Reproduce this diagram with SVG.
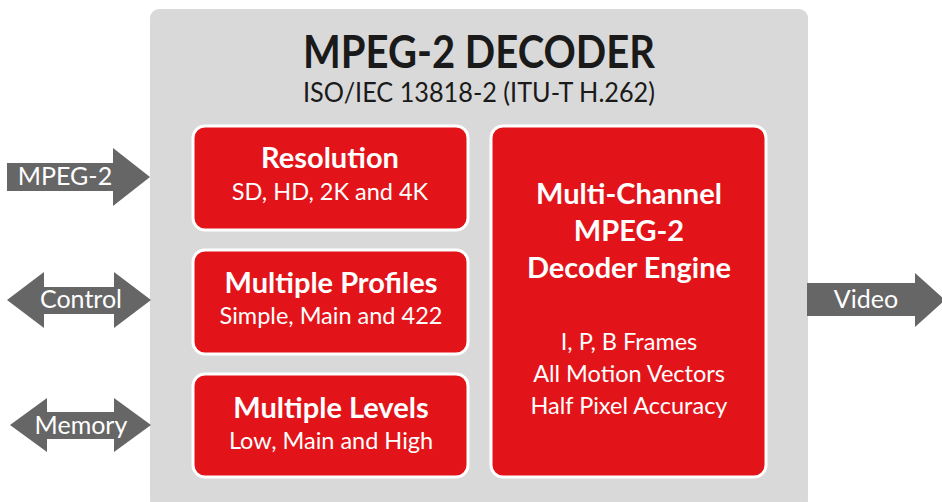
<svg xmlns="http://www.w3.org/2000/svg" width="942" height="502" viewBox="0 0 942 502">
<style>
.box{fill:#e2141a;stroke:#ffffff;stroke-width:3}
.arr{fill:#666666}
.t{font-family:Lato,"Open Sans","Liberation Sans",sans-serif;fill:#ffffff;text-anchor:middle}
.b{font-weight:bold;font-size:29px}
.r{font-size:23.5px}
.al{font-family:Lato,"Open Sans","Liberation Sans",sans-serif;fill:#ffffff;font-size:25px;text-anchor:middle}
</style>
<rect x="0" y="0" width="942" height="502" fill="#ffffff"/>
<g id="decoder">
<rect x="150" y="9" width="658" height="500" rx="9" fill="#d9d9d9"/>
<text x="479" y="68" font-family="Lato,'Open Sans','Liberation Sans',sans-serif" font-weight="bold" font-size="45" fill="#1a1a1a" text-anchor="middle" textLength="352" lengthAdjust="spacingAndGlyphs">MPEG-2 DECODER</text>
<text x="479" y="102" font-family="Lato,'Open Sans','Liberation Sans',sans-serif" font-size="26" fill="#1a1a1a" text-anchor="middle" textLength="352" lengthAdjust="spacingAndGlyphs">ISO/IEC 13818-2 (ITU-T H.262)</text>
</g>
<g id="connectors">
<polygon class="arr" points="7,163 113,163 113,148 150,177 113,206 113,191 7,191"/>
<polygon class="arr" points="7,300 44,272 44,287 114,287 114,272 151,300 114,328 114,314 44,314 44,328"/>
<polygon class="arr" points="10,425 47,398 47,412 114,412 114,398 151,425 114,452 114,439 47,439 47,452"/>
<polygon class="arr" points="807,283 915,283 915,273 945,300 915,327 915,316 807,316"/>
<text class="al" x="65" y="185">MPEG-2</text>
<text class="al" x="81" y="308">Control</text>
<text class="al" x="81" y="434">Memory</text>
<text class="al" x="866" y="308">Video</text>
</g>
<g id="resolution">
<rect class="box" x="193" y="126" width="275" height="104" rx="12"/>
<text class="t b" x="330" y="168">Resolution</text>
<text class="t r" x="330" y="200">SD, HD, 2K and 4K</text>
</g>
<g id="profiles">
<rect class="box" x="193" y="250" width="275" height="104" rx="12"/>
<text class="t b" x="331" y="293">Multiple Profiles</text>
<text class="t r" x="331" y="324">Simple, Main and 422</text>
</g>
<g id="levels">
<rect class="box" x="193" y="374" width="275" height="103" rx="12"/>
<text class="t b" x="331" y="418">Multiple Levels</text>
<text class="t r" x="331" y="449">Low, Main and High</text>
</g>
<g id="engine">
<rect class="box" x="491" y="126" width="275" height="351" rx="12"/>
<text class="t b" x="629" y="204">Multi-Channel</text>
<text class="t b" x="629" y="241">MPEG-2</text>
<text class="t b" x="629" y="278">Decoder Engine</text>
<text class="t r" x="629" y="350">I, P, B Frames</text>
<text class="t r" x="629" y="382">All Motion Vectors</text>
<text class="t r" x="629" y="414">Half Pixel Accuracy</text>
</g>
</svg>
